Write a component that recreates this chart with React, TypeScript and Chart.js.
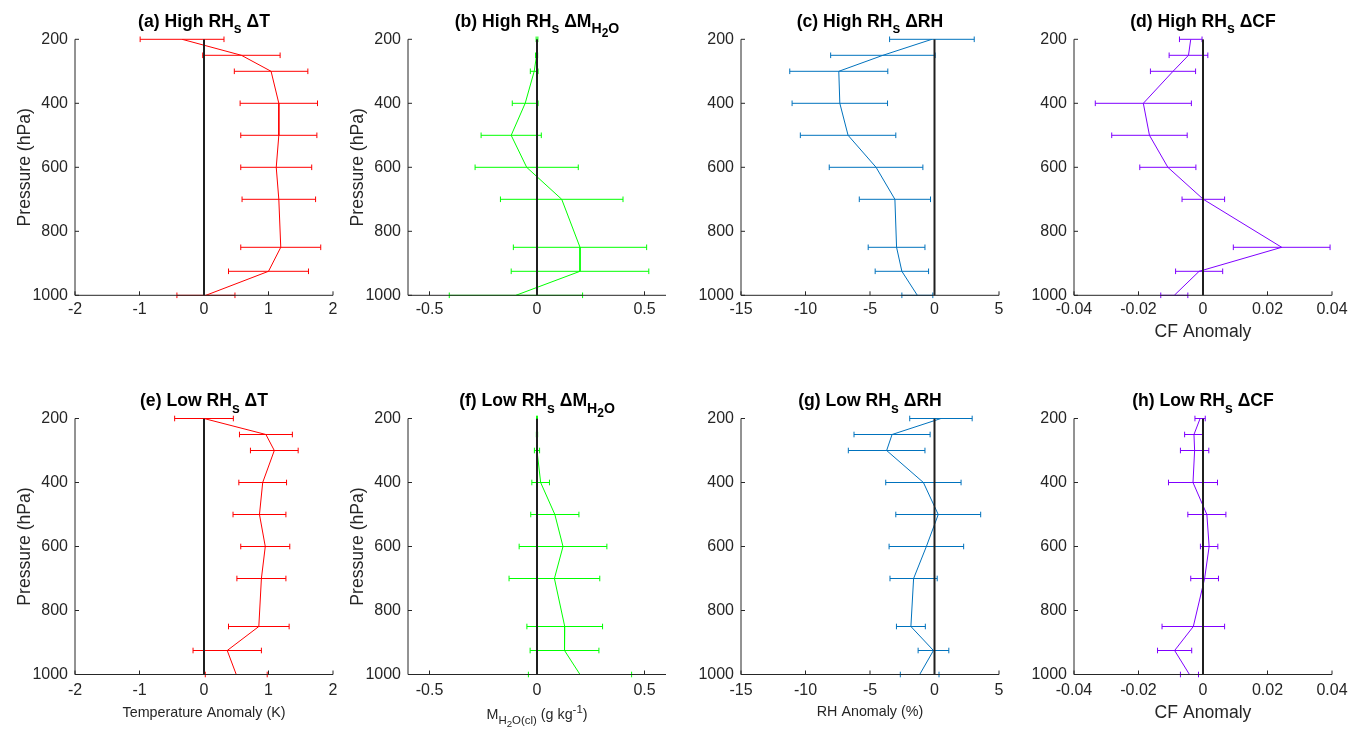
import React, { useEffect, useRef } from 'react';
import { Chart, registerables } from 'chart.js';

Chart.register(...registerables);

// ---------- DATA ----------
const levels = [200, 250, 300, 400, 500, 600, 700, 850, 925, 1000];
const yTicks = [200, 400, 600, 800, 1000];

const ticksT = [-2, -1, 0, 1, 2];
const ticksM = [-0.5, 0, 0.5];
const ticksRH = [-15, -10, -5, 0, 5];
const ticksCF = [-0.04, -0.02, 0, 0.02, 0.04];

// High RHs
const aMean = [-0.34, 0.58, 1.04, 1.16, 1.16, 1.12, 1.16, 1.19, 1.0, 0.03];
const aErr = [0.65, 0.6, 0.57, 0.6, 0.59, 0.55, 0.57, 0.62, 0.62, 0.45];
const bMean = [0.0, -0.002, -0.013, -0.055, -0.12, -0.048, 0.115, 0.2, 0.2, -0.098];
const bErr = [0.004, 0.005, 0.018, 0.06, 0.14, 0.24, 0.285, 0.31, 0.32, 0.31];
const cMean = [-0.2, -4.0, -7.42, -7.34, -6.7, -4.53, -3.07, -2.94, -2.53, -1.33];
const cErr = [3.28, 4.05, 3.8, 3.7, 3.7, 3.63, 2.76, 2.2, 2.07, 1.2];
const dMean = [-0.0038, -0.0045, -0.0093, -0.0185, -0.0166, -0.0109, 0.0001, 0.0244, -0.0012, -0.0089];
const dErr = [0.0035, 0.006, 0.007, 0.0149, 0.0117, 0.0087, 0.0066, 0.015, 0.0073, 0.0042];

// Low RHs
const eMean = [0.0, 0.96, 1.09, 0.91, 0.86, 0.95, 0.89, 0.85, 0.36, 0.5];
const eErr = [0.455, 0.41, 0.37, 0.37, 0.41, 0.38, 0.38, 0.47, 0.53, 0.48];
const fMean = [0.0, 0.0, 0.0, 0.017, 0.083, 0.121, 0.081, 0.129, 0.128, 0.2];
const fErr = [0.002, 0.003, 0.012, 0.041, 0.112, 0.204, 0.211, 0.176, 0.16, 0.24];
const gMean = [0.5, -3.29, -3.71, -0.86, 0.29, -0.63, -1.62, -1.83, -0.08, -1.15];
const gErr = [2.42, 2.95, 2.97, 2.92, 3.29, 2.89, 1.83, 1.12, 1.19, 1.5];
const hMean = [-0.0009, -0.0028, -0.0026, -0.0031, 0.0012, 0.0019, 0.0005, -0.003, -0.0088, -0.0042];
const hErr = [0.0016, 0.0029, 0.0044, 0.0076, 0.0059, 0.0027, 0.0043, 0.0097, 0.0053, 0.0028];

// ---------- STYLE / LAYOUT ----------
const FONT = "'Liberation Sans', Arial, Helvetica, sans-serif";
const TXT = '#262626';
const W = 1364;
const H = 734;
const PW = 258;
const PH = 256;
const colLeft = [75, 408, 741, 1074];
const rowTop = [39.3, 418.5];
const rowTickPad = [4.5, 6.5];

type Seg = { t: string; l: number };

const titleSegs = (tag: string, grp: string, qty: Seg[]): Seg[] => [
  { t: `(${tag}) ${grp} RH`, l: 0 },
  { t: 's', l: 1 },
  ...qty,
];
const qT: Seg[] = [{ t: ' ΔT', l: 0 }];
const qM: Seg[] = [{ t: ' ΔM', l: 0 }, { t: 'H', l: 1 }, { t: '2', l: 2 }, { t: 'O', l: 1 }];
const qRH: Seg[] = [{ t: ' ΔRH', l: 0 }];
const qCF: Seg[] = [{ t: ' ΔCF', l: 0 }];

const mLabel: Seg[] = [
  { t: 'M', l: 0 },
  { t: 'H', l: 1 },
  { t: '2', l: 2 },
  { t: 'O(cl)', l: 1 },
  { t: ' (g kg', l: 0 },
  { t: '-1', l: -1 },
  { t: ')', l: 0 },
];

type Panel = {
  id: string;
  title: Seg[];
  mean: number[];
  err: number[];
  color: string;
  xMin: number;
  xMax: number;
  xTicks: number[];
  col: number;
  row: number;
  yTitle: boolean;
  xTitle: Seg[] | null;
  xTitleSize: number;
  xTitleOff: number;
};

const RED = '#FF0000';
const GREEN = '#00FF00';
const BLUE = '#0072BD';
const PURPLE = '#7F00FF';

const panels: Panel[] = [
  { id: 'a', title: titleSegs('a', 'High', qT), mean: aMean, err: aErr, color: RED, xMin: -2, xMax: 2, xTicks: ticksT, col: 0, row: 0, yTitle: true, xTitle: null, xTitleSize: 14.3, xTitleOff: 42 },
  { id: 'b', title: titleSegs('b', 'High', qM), mean: bMean, err: bErr, color: GREEN, xMin: -0.6, xMax: 0.6, xTicks: ticksM, col: 1, row: 0, yTitle: true, xTitle: null, xTitleSize: 14.3, xTitleOff: 42 },
  { id: 'c', title: titleSegs('c', 'High', qRH), mean: cMean, err: cErr, color: BLUE, xMin: -15, xMax: 5, xTicks: ticksRH, col: 2, row: 0, yTitle: false, xTitle: null, xTitleSize: 14.3, xTitleOff: 42 },
  { id: 'd', title: titleSegs('d', 'High', qCF), mean: dMean, err: dErr, color: PURPLE, xMin: -0.04, xMax: 0.04, xTicks: ticksCF, col: 3, row: 0, yTitle: false, xTitle: [{ t: 'CF Anomaly', l: 0 }], xTitleSize: 17.6, xTitleOff: 42 },
  { id: 'e', title: titleSegs('e', 'Low', qT), mean: eMean, err: eErr, color: RED, xMin: -2, xMax: 2, xTicks: ticksT, col: 0, row: 1, yTitle: true, xTitle: [{ t: 'Temperature Anomaly (K)', l: 0 }], xTitleSize: 14.3, xTitleOff: 42 },
  { id: 'f', title: titleSegs('f', 'Low', qM), mean: fMean, err: fErr, color: GREEN, xMin: -0.6, xMax: 0.6, xTicks: ticksM, col: 1, row: 1, yTitle: true, xTitle: mLabel, xTitleSize: 14.3, xTitleOff: 44 },
  { id: 'g', title: titleSegs('g', 'Low', qRH), mean: gMean, err: gErr, color: BLUE, xMin: -15, xMax: 5, xTicks: ticksRH, col: 2, row: 1, yTitle: false, xTitle: [{ t: 'RH Anomaly (%)', l: 0 }], xTitleSize: 14.3, xTitleOff: 41.5 },
  { id: 'h', title: titleSegs('h', 'Low', qCF), mean: hMean, err: hErr, color: PURPLE, xMin: -0.04, xMax: 0.04, xTicks: ticksCF, col: 3, row: 1, yTitle: false, xTitle: [{ t: 'CF Anomaly', l: 0 }], xTitleSize: 17.6, xTitleOff: 43 },
];

// ---------- rich text helper ----------
function segFont(size: number, lvl: number, bold: boolean) {
  const s = lvl === 0 ? size : lvl === 2 ? size * 0.68 : size * 0.8;
  return `${bold ? 'bold ' : ''}${s}px ${FONT}`;
}
function segDy(size: number, lvl: number) {
  if (lvl === 1) return size * 0.37;
  if (lvl === 2) return size * 0.6;
  if (lvl === -1) return -size * 0.4;
  return 0;
}
function drawRich(ctx: CanvasRenderingContext2D, segs: Seg[], cx: number, baseline: number, size: number, bold: boolean, color: string) {
  ctx.save();
  ctx.fillStyle = color;
  ctx.textBaseline = 'alphabetic';
  ctx.textAlign = 'left';
  let total = 0;
  const widths = segs.map((s) => {
    ctx.font = segFont(size, s.l, bold);
    const w = ctx.measureText(s.t).width;
    total += w;
    return w;
  });
  let x = cx - total / 2;
  segs.forEach((s, i) => {
    ctx.font = segFont(size, s.l, bold);
    ctx.fillText(s.t, x, baseline + segDy(size, s.l));
    x += widths[i];
  });
  ctx.restore();
}

function makePlugin(p: Panel) {
  return {
    id: 'deco_' + p.id,
    beforeDatasetsDraw(chart: any) {
      const ctx = chart.ctx as CanvasRenderingContext2D;
      const xs = chart.scales.x;
      const ys = chart.scales.y;
      const cap = 2.8;
      ctx.save();
      ctx.strokeStyle = p.color;
      ctx.lineWidth = 1;
      levels.forEach((lev, i) => {
        const y = ys.getPixelForValue(lev);
        const x1 = xs.getPixelForValue(p.mean[i] - p.err[i]);
        const x2 = xs.getPixelForValue(p.mean[i] + p.err[i]);
        ctx.beginPath();
        ctx.moveTo(x1, y);
        ctx.lineTo(x2, y);
        ctx.moveTo(x1, y - cap);
        ctx.lineTo(x1, y + cap);
        ctx.moveTo(x2, y - cap);
        ctx.lineTo(x2, y + cap);
        ctx.stroke();
      });
      ctx.restore();
    },
    afterDraw(chart: any) {
      const ctx = chart.ctx as CanvasRenderingContext2D;
      const a = chart.chartArea;
      const xs = chart.scales.x;
      const ys = chart.scales.y;
      ctx.save();
      // axis lines
      ctx.strokeStyle = TXT;
      ctx.lineWidth = 1;
      ctx.beginPath();
      ctx.moveTo(a.left, a.top);
      ctx.lineTo(a.left, a.bottom);
      ctx.lineTo(a.right, a.bottom);
      ctx.stroke();
      // inward tick marks
      const tl = 4;
      ctx.beginPath();
      xs.ticks.forEach((t: any) => {
        const x = xs.getPixelForValue(t.value);
        ctx.moveTo(x, a.bottom);
        ctx.lineTo(x, a.bottom - tl);
      });
      ys.ticks.forEach((t: any) => {
        const y = ys.getPixelForValue(t.value);
        ctx.moveTo(a.left, y);
        ctx.lineTo(a.left + tl, y);
      });
      ctx.stroke();
      ctx.restore();

      // title
      drawRich(ctx, p.title, (a.left + a.right) / 2, a.top - 12.5, 17.6, true, '#000');

      // y title
      if (p.yTitle) {
        ctx.save();
        ctx.translate(a.left - 45, (a.top + a.bottom) / 2);
        ctx.rotate(-Math.PI / 2);
        ctx.font = `17.6px ${FONT}`;
        ctx.fillStyle = TXT;
        ctx.textAlign = 'center';
        ctx.textBaseline = 'alphabetic';
        ctx.fillText('Pressure (hPa)', 0, 0);
        ctx.restore();
      }
      // x title
      if (p.xTitle) {
        drawRich(ctx, p.xTitle, (a.left + a.right) / 2, a.bottom + p.xTitleOff, p.xTitleSize, false, TXT);
      }
    },
  };
}

function PanelChart({ p }: { p: Panel }) {
  const ref = useRef<HTMLCanvasElement>(null);
  useEffect(() => {
    if (!ref.current) return;
    const L = colLeft[p.col];
    const T = rowTop[p.row];
    const chart = new Chart(ref.current, {
      type: 'scatter',
      data: {
        datasets: [
          {
            data: [
              { x: 0, y: 200 },
              { x: 0, y: 1000 },
            ],
            showLine: true,
            borderColor: '#1f1f1f',
            borderWidth: 2,
            pointRadius: 0,
          },
          {
            data: levels.map((lev, i) => ({ x: p.mean[i], y: lev })),
            showLine: true,
            borderColor: p.color,
            borderWidth: 1,
            pointRadius: 0,
          },
        ],
      },
      options: {
        animation: false,
        responsive: false,
        events: [],
        layout: {
          padding: {
            left: L - 50,
            top: T,
            right: W - (L + PW),
            bottom: H - (T + PH) - 50,
          },
        },
        plugins: {
          legend: { display: false },
          tooltip: { enabled: false },
          title: { display: false },
        },
        scales: {
          x: {
            type: 'linear',
            min: p.xMin,
            max: p.xMax,
            afterBuildTicks: (s: any) => {
              s.ticks = p.xTicks.map((v) => ({ value: v }));
            },
            afterFit: (s: any) => {
              s.height = 50;
            },
            grid: { display: false, drawTicks: false },
            border: { display: false },
            ticks: {
              autoSkip: false,
              maxRotation: 0,
              padding: rowTickPad[p.row],
              color: TXT,
              font: { family: FONT, size: 16 },
              callback: (v: any) => String(v),
            },
          },
          y: {
            type: 'linear',
            reverse: true,
            min: 200,
            max: 1000,
            afterBuildTicks: (s: any) => {
              s.ticks = yTicks.map((v) => ({ value: v }));
            },
            afterFit: (s: any) => {
              s.width = 50;
            },
            grid: { display: false, drawTicks: false },
            border: { display: false },
            ticks: {
              autoSkip: false,
              padding: 7,
              color: TXT,
              font: { family: FONT, size: 16 },
              callback: (v: any) => String(v),
            },
          },
        },
      },
      plugins: [makePlugin(p)],
    } as any);
    return () => chart.destroy();
  }, [p]);
  return (
    <canvas
      ref={ref}
      width={W}
      height={H}
      style={{ position: 'absolute', left: 0, top: 0, width: W, height: H }}
    />
  );
}

export default function App() {
  return (
    <div
      style={{
        position: 'fixed',
        left: 0,
        top: 0,
        width: W,
        height: H,
        background: '#fff',
        overflow: 'hidden',
      }}
    >
      {panels.map((p) => (
        <PanelChart key={p.id} p={p} />
      ))}
    </div>
  );
}
